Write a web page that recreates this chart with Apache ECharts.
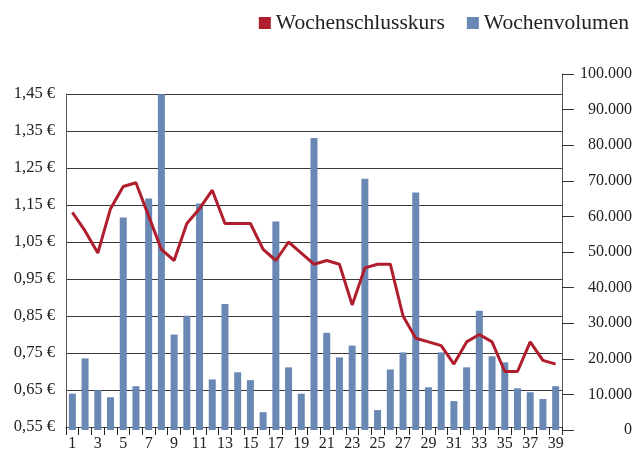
<!DOCTYPE html>
<html>
<head>
<meta charset="utf-8">
<script src="https://cdn.jsdelivr.net/npm/echarts@6/dist/echarts.min.js"></script>
<style>
  html, body { margin: 0; padding: 0; background: #fff; }
  #chart { width: 638px; height: 452px; }
</style>
</head>
<body>
<div id="chart"></div>
<script>
// Kalenderwochen 1..39
const weeks = [];
for (let i = 1; i <= 39; i++) weeks.push(String(i));

// Wochenschlusskurs in Euro
const closePrice = [
  1.13, 1.08, 1.02, 1.14, 1.20, 1.21, 1.12, 1.03, 1.00, 1.10,
  1.14, 1.19, 1.10, 1.10, 1.10, 1.03, 1.00, 1.05, 1.02, 0.99,
  1.00, 0.99, 0.88, 0.98, 0.99, 0.99, 0.85, 0.79, 0.78, 0.77,
  0.72, 0.78, 0.80, 0.78, 0.70, 0.70, 0.78, 0.73, 0.72
];

// Wochenvolumen in Stueck
const weekVolume = [
  10200, 20100, 11200, 9200, 59700, 12300, 65000, 94300, 26800, 32100,
  63600, 14200, 35400, 16200, 14000, 5000, 58600, 17600, 10200, 82000,
  27300, 20400, 23700, 70600, 5600, 17000, 21800, 66700, 12000, 21800,
  8100, 17600, 33500, 20700, 19000, 11700, 10600, 8700, 12300
];

const seriesNames = ["Wochenschlusskurs", "Wochenvolumen"];
const colors = ["#b01e2d", "#6a88b4"];
const fontFamily = "Liberation Serif";

const chart = echarts.init(document.getElementById("chart"));

chart.setOption({
  animation: false,
  textStyle: { fontFamily: fontFamily, color: "#222" },
  legend: {
    data: seriesNames,
    right: 4,
    top: 7,
    icon: "rect",
    itemWidth: 12,
    itemHeight: 12,
    itemGap: 22,
    textStyle: { fontFamily: fontFamily, fontSize: 21.5, color: "#222" }
  },
  grid: [
    { left: 66, right: 76, top: 94, bottom: 22 },
    { left: 66, right: 76, top: 74, bottom: 22 }
  ],
  xAxis: [
    {
      type: "category",
      gridIndex: 0,
      data: weeks,
      boundaryGap: true,
      axisLine: { lineStyle: { color: "#444", width: 1 } },
      axisTick: { show: true, interval: 0, length: 8, lineStyle: { color: "#222" } },
      axisLabel: {
        interval: 1,
        margin: 9,
        fontSize: 16,
        fontFamily: fontFamily,
        color: "#222"
      }
    },
    {
      type: "category",
      gridIndex: 1,
      data: weeks,
      boundaryGap: true,
      show: false
    }
  ],
  yAxis: [
    {
      type: "value",
      gridIndex: 0,
      position: "left",
      min: 0.55,
      max: 1.45,
      interval: 0.1,
      axisLine: { show: true, lineStyle: { color: "#555" } },
      axisTick: { show: false },
      splitLine: { show: true, lineStyle: { color: "#3a3a3a", width: 1 } },
      axisLabel: {
        margin: 11,
        fontSize: 16.5,
        fontFamily: fontFamily,
        color: "#222",
        formatter: function (v) {
          return v.toFixed(2).replace(".", ",") + " €";
        }
      }
    },
    {
      type: "value",
      gridIndex: 1,
      position: "right",
      min: 0,
      max: 100000,
      interval: 10000,
      axisLine: { show: true, lineStyle: { color: "#555" } },
      axisTick: { show: true, length: 12, inside: false, lineStyle: { color: "#333" } },
      splitLine: { show: false },
      axisLabel: {
        margin: 70,
        align: "right",
        fontSize: 16,
        fontFamily: fontFamily,
        color: "#222",
        formatter: function (v) {
          return v === 0 ? "0" : String(v).replace(/\B(?=(\d{3})+(?!\d))/g, ".");
        }
      }
    }
  ],
  series: [
    {
      name: seriesNames[0],
      type: "line",
      xAxisIndex: 0,
      yAxisIndex: 0,
      data: closePrice,
      symbol: "none",
      z: 5,
      itemStyle: { color: colors[0] },
      lineStyle: { color: colors[0], width: 3 }
    },
    {
      name: seriesNames[1],
      type: "bar",
      xAxisIndex: 1,
      yAxisIndex: 1,
      data: weekVolume,
      barWidth: 7,
      z: 3,
      itemStyle: { color: colors[1] }
    }
  ]
});
</script>
</body>
</html>
